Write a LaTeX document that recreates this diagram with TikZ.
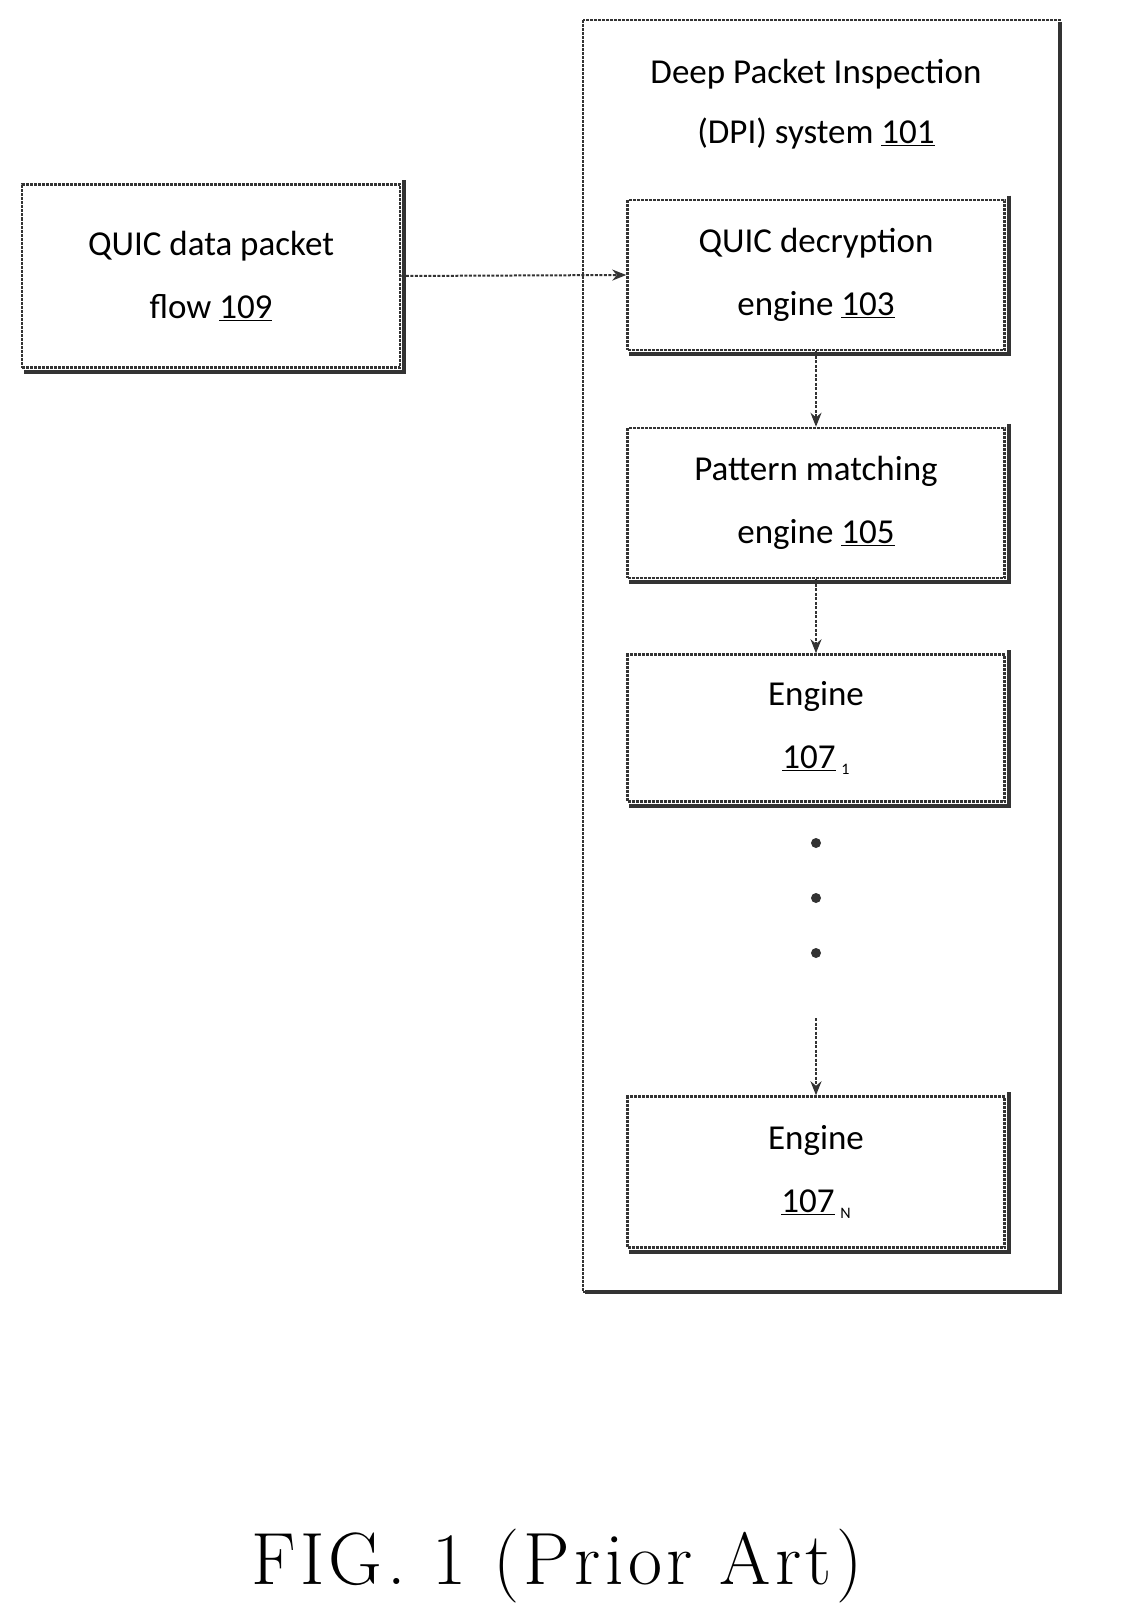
\documentclass[tikz,border=0pt]{standalone}
\usepackage{fontspec}
\setmainfont{Carlito}
\newfontfamily\lmr[LetterSpace=6]{Latin Modern Roman}
\usetikzlibrary{arrows.meta}
\begin{document}
\begin{tikzpicture}[x=1pt,y=-1pt,
  box/.style={draw=black!80,line width=2.5pt,dash pattern=on 3pt off 1pt,align=center,font=\fontsize{35}{63}\selectfont,minimum width=377pt},
  arr/.style={draw=black!80,line width=2pt,dash pattern=on 3pt off 1.5pt,-{Stealth[length=14pt,width=11pt]}}]
\useasboundingbox (0,0) rectangle (1121,1621);
\draw[black!80,line width=2.5pt,dash pattern=on 3pt off 1pt] (583,20) rectangle (1060,1292);
\draw[black!80,line width=4pt] (1060,22)--(1060,1292)--(585,1292);
\node[align=center,font=\fontsize{35}{60}\selectfont] (title) at (816,104) {Deep Packet Inspection\\(DPI) system \underline{101}};
\node[box,minimum width=378pt,minimum height=183pt] (flow) at (211,276) {QUIC data packet\\flow \underline{109}};
\node[box,minimum height=150pt] (dec) at (816,275) {QUIC decryption\\engine \underline{103}};
\node[box,minimum height=150pt] (pat) at (816,503) {Pattern matching\\engine \underline{105}};
\node[box,minimum height=147pt] (e1) at (816,728) {Engine\\\underline{107}\,\raisebox{-6pt}{\fontsize{16}{16}\selectfont 1}};
\node[box,minimum height=151pt] (en) at (816,1172) {Engine\\\underline{107}\,\raisebox{-6pt}{\fontsize{16}{16}\selectfont N}};
\foreach \n in {flow,dec,pat,e1,en}{
  \draw[black!80,line width=4pt] ([xshift=3pt,yshift=3pt]\n.north east)--([xshift=3pt,yshift=-3pt]\n.south east)--([xshift=3pt,yshift=-3pt]\n.south west);}
\foreach \y in {843,898,953}{\fill[black!80] (816,\y) circle (5pt);}
\coordinate (dots) at (816,1018);
\draw[arr] (flow.east) -- (dec.west);
\draw[arr] (dec.south) -- (pat.north);
\draw[arr] (pat.south) -- (e1.north);
\draw[arr] (dots) -- (en.north);
\node[font=\lmr\fontsize{74}{74}\selectfont] (cap) at (557,1566) {FIG. 1 (Prior Art)};
\end{tikzpicture}
\end{document}
